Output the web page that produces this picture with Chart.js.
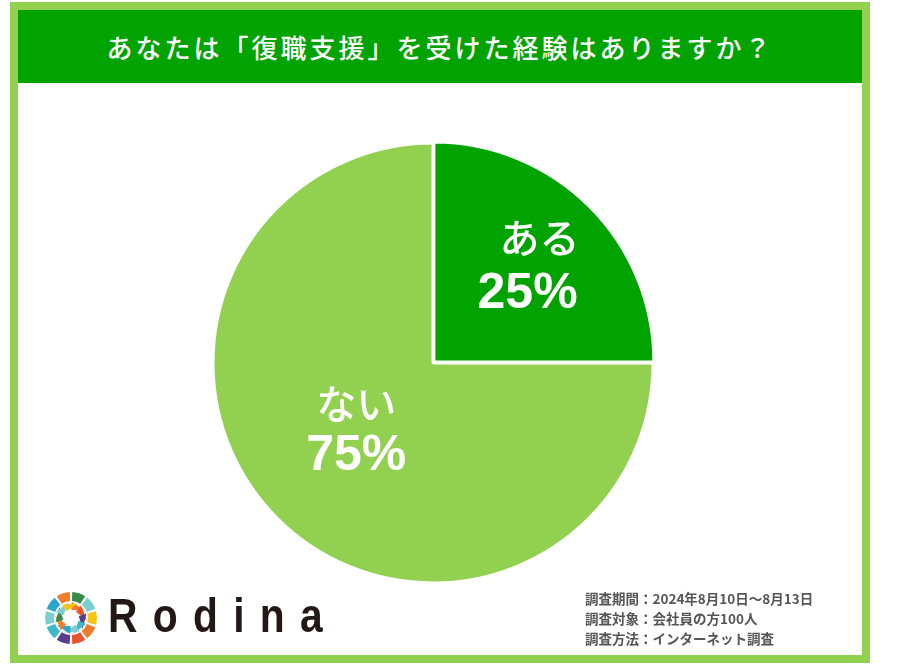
<!DOCTYPE html>
<html><head><meta charset="utf-8">
<script src="https://cdn.jsdelivr.net/npm/chart.js@4"></script>
<style>
body{margin:0;width:900px;height:667px;background:#fff;position:relative;overflow:hidden;font-family:"Noto Sans CJK JP",sans-serif}
#frame{position:absolute;left:10px;top:2px;width:860px;height:661px;border:8px solid #92d050;box-sizing:border-box}
#title{position:absolute;left:18px;top:10px;width:844px;height:73px;background:#00a300;color:#fff;font-size:26px;font-weight:500;text-align:center;line-height:73px;letter-spacing:3px}
#wrap{position:absolute;left:198px;top:128px;width:470px;height:470px}
#brand{position:absolute;left:108px;top:590px;font-family:"Liberation Sans",sans-serif;font-size:48px;font-weight:bold;letter-spacing:18px;color:#231815;line-height:52px;transform:scaleX(0.85);transform-origin:left}
#note{position:absolute;left:585px;top:588px;font-size:13.5px;font-weight:bold;color:#555;line-height:20px}
#logo{position:absolute;left:44px;top:591px}
</style></head><body>
<div id="frame"></div>
<div id="title">あなたは「復職支援」を受けた経験はありますか？</div>
<div id="wrap"><canvas id="pie" width="470" height="470"></canvas></div>
<canvas id="logo" width="54" height="54"></canvas>
<div id="brand">Rodina</div>
<div id="note">調査期間：2024年8月10日～8月13日<br>調査対象：会社員の方100人<br>調査方法：インターネット調査</div>
<script>
const categories = ["ある", "ない"];
const values = [25, 75];
const colors = ["#00a300", "#92d050"];

const sliceLabels = {
  id: "sliceLabels",
  afterDatasetsDraw(chart) {
    const ctx = chart.ctx;
    const shift = [[27, -46, 15, 11], [1, -37, 1, 15]];
    chart.getDatasetMeta(0).data.forEach((arc, i) => {
      const p = arc.tooltipPosition();
      const s = shift[i];
      ctx.save();
      ctx.fillStyle = "#fff";
      ctx.textAlign = "center";
      ctx.textBaseline = "middle";
      ctx.font = "500 40px 'Noto Sans CJK JP'";
      ctx.fillText(categories[i], p.x + s[0], p.y + s[1]);
      ctx.font = "bold 50px 'Liberation Sans'";
      ctx.fillText(values[i] + "%", p.x + s[2], p.y + s[3]);
      ctx.restore();
    });
  }
};

new Chart(document.getElementById("pie"), {
  type: "pie",
  data: {
    labels: categories,
    datasets: [{
      data: values,
      backgroundColor: colors,
      borderColor: "#fff",
      borderWidth: 3,
      offset: [5, 0],
      radius: 220
    }]
  },
  options: {
    responsive: false,
    animation: false,
    plugins: { legend: { display: false }, tooltip: { enabled: false } }
  },
  plugins: [sliceLabels]
});

// logo mark
const lc = document.getElementById("logo").getContext("2d");
const lcol = ["#3a8a4a","#7ccfd1","#f5c518","#f07b2a","#e8542f","#5a3c8c","#3fb8c8","#7ccfd1","#2aa7c9","#f07b2a"];
for (let k = 0; k < 10; k++) {
  const a0 = -Math.PI / 2 + k * Math.PI / 5 + 0.05, a1 = a0 + Math.PI / 5 - 0.1;
  lc.beginPath(); lc.arc(27, 27, 26, a0, a1); lc.arc(27, 27, 17, a1, a0, true); lc.closePath();
  lc.fillStyle = lcol[k]; lc.fill();
  lc.beginPath(); lc.moveTo(27 + 8 * Math.cos(a0), 27 + 8 * Math.sin(a0));
  lc.lineTo(27 + 16 * Math.cos(a0), 27 + 16 * Math.sin(a0));
  lc.lineTo(27 + 16 * Math.cos(a1 + 0.5), 27 + 16 * Math.sin(a1 + 0.5));
  lc.closePath(); lc.fillStyle = lcol[(k + 3) % 10]; lc.fill();
}
</script>
</body></html>
